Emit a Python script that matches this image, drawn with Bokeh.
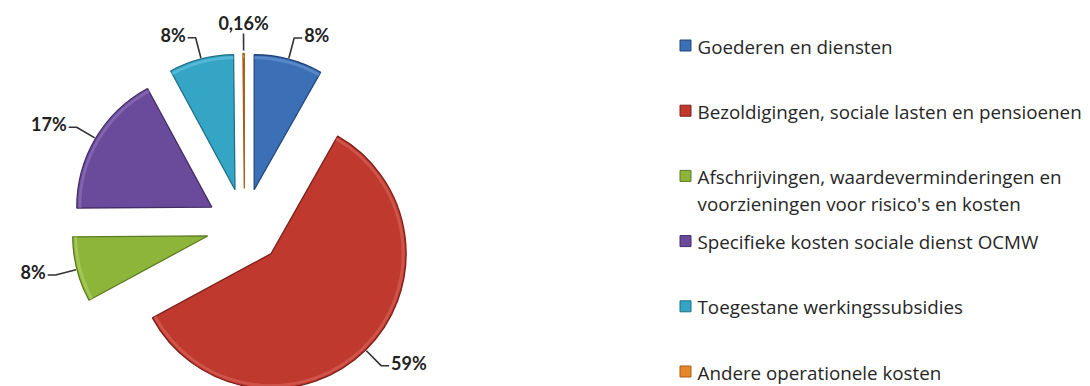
import math
from bokeh.plotting import figure
from bokeh.models import Range1d, ColumnDataSource
from bokeh.core.properties import value
from bokeh.embed import file_html
from bokeh.resources import INLINE

# ---- data ----
categories = [
    "Goederen en diensten",
    "Bezoldigingen, sociale lasten en pensioenen",
    "Afschrijvingen, waardeverminderingen en\nvoorzieningen voor risico's en kosten",
    "Specifieke kosten sociale dienst OCMW",
    "Toegestane werkingssubsidies",
    "Andere operationele kosten",
]
values = [8.2, 58.9, 7.8, 17.2, 7.74, 0.16]
colors = ["#3b6fb6", "#c0392f", "#8db53a", "#6a4b9b", "#35a5c5", "#e8862a"]
edge_colors = ["#24467f", "#7f211b", "#5c7a24", "#432d68", "#1f6f86", "#a85c16"]
light_colors = ["#6d9ad6", "#dc6a60", "#b5d66a", "#9479c0", "#6cc9e2", "#f5ae63"]

# ---- layout (pixels) ----
W, H = 1090, 386
CX, CY = 244, 226
R = 135
EXPLODE = 38
LEAD = 22
LEG_X = 685
LEG_Y0 = 45
LEG_STEP = 65.2


def label_text(v):
    if v < 1:
        return ("%.2f" % v).replace(".", ",") + "%"
    return "%d%%" % round(v)


total = sum(values)
p = figure(width=W, height=H, x_range=Range1d(0, W), y_range=Range1d(0, H),
           output_backend="svg", toolbar_location=None,
           x_axis_location=None, y_axis_location=None, min_border=0)
p.grid.visible = False
p.outline_line_color = None
p.background_fill_color = "white"
p.border_fill_color = "white"

wx, wy, sa, ea = [], [], [], []
lx, ly, la, lt = [], [], [], []
lead_xs, lead_ys = [], []
acc = 0.0
for v in values:
    t0 = acc / total * 360.0
    t1 = (acc + v) / total * 360.0
    acc += v
    mid = math.radians((t0 + t1) / 2)
    s, c = math.sin(mid), math.cos(mid)
    cx = CX + EXPLODE * s
    cy = CY - EXPLODE * c
    wx.append(cx)
    wy.append(H - cy)
    sa.append(math.radians(90 - t0))
    ea.append(math.radians(90 - t1))
    # leader line
    a = (CX + (EXPLODE + R + 1) * s, CY - (EXPLODE + R + 1) * c)
    b = (CX + (EXPLODE + R + LEAD) * s, CY - (EXPLODE + R + LEAD) * c)
    if abs(s) < 0.1:
        a = (a[0], a[1] - 2)
        b = (b[0], b[1] + 2)
        lead_xs.append([a[0], b[0]])
        lead_ys.append([H - a[1], H - b[1]])
        lx.append(b[0]); ly.append(H - (b[1] - 11)); la.append("center")
    else:
        sign = 1 if s > 0 else -1
        e = (b[0] + sign * 8, b[1])
        lead_xs.append([a[0], b[0], e[0]])
        lead_ys.append([H - a[1], H - b[1], H - e[1]])
        lx.append(e[0] + sign * 2); ly.append(H - (e[1] - 3))
        la.append("left" if sign > 0 else "right")
    lt.append(label_text(v))

src = ColumnDataSource(dict(x=wx, y=wy, s=sa, e=ea, color=colors,
                            edge=edge_colors, light=light_colors))
p.wedge(x="x", y="y", radius=R, start_angle="s", end_angle="e", direction="clock",
        fill_color="color", line_color="edge", line_width=1.3, source=src)
# soft bevel highlight along the outer rim
p.arc(x="x", y="y", radius=R - 3, start_angle="s", end_angle="e", direction="clock",
      line_color="light", line_width=3, line_alpha=0.55, source=src)

p.multi_line(xs=lead_xs, ys=lead_ys, line_color="#333333", line_width=1.6)
p.text(x=lx, y=ly, text=lt, text_align=la, text_baseline="middle",
       text_font=value("Lato"), text_font_style="bold", text_font_size="18px",
       text_color="#222222")

# ---- legend ----
leg_y = [H - (LEG_Y0 + i * LEG_STEP) for i in range(len(categories))]
p.scatter(x=[LEG_X] * len(categories), y=leg_y, marker="square", size=11,
          fill_color=colors, line_color=edge_colors, line_width=1)
p.text(x=[LEG_X + 12] * len(categories), y=[y + 12 for y in leg_y], text=categories,
       text_align="left", text_baseline="top", text_font=value("Open Sans"),
       text_font_size="18.8px", text_color="#262626", text_line_height=1.05)

open("out.html", "w").write(file_html(p, INLINE))
